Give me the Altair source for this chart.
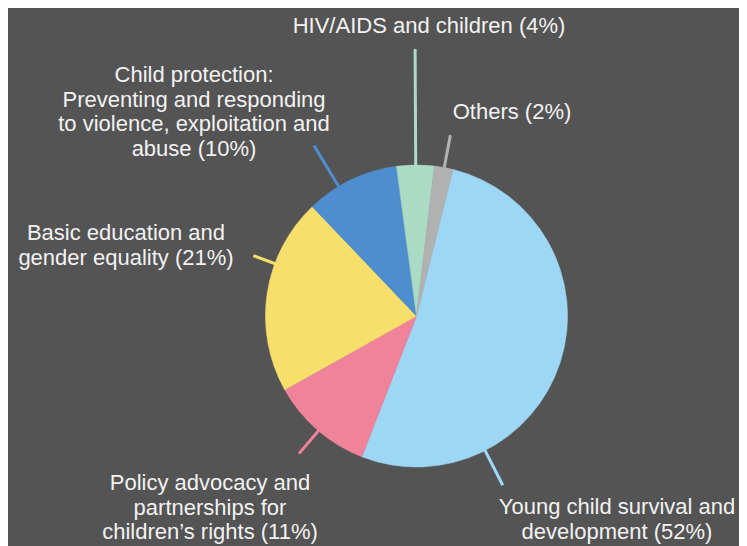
import altair as alt
import pandas as pd
import numpy as np

# ---- data -------------------------------------------------------------
categories = [
    "Young child survival and development",
    "Policy advocacy and partnerships for children’s rights",
    "Basic education and gender equality",
    "Child protection: Preventing and responding to violence, exploitation and abuse",
    "HIV/AIDS and children",
    "Others",
]
shares = [52, 11, 21, 10, 4, 2]
colors = ["#9dd7f5", "#ee8399", "#f7df6b", "#4e8ecf", "#a9dbc5", "#b1b1b1"]
label_text = [
    "Young child survival and\ndevelopment (52%)",
    "Policy advocacy and\npartnerships for\nchildren’s rights (11%)",
    "Basic education and\ngender equality (21%)",
    "Child protection:\nPreventing and responding\nto violence, exploitation and\nabuse (10%)",
    "HIV/AIDS and children (4%)",
    "Others (2%)",
]

# ---- annotation layout (view pixels) ---------------------------------
W, H = 731, 538
CX, CY, R = 408.5, 308, 151
START = float(np.deg2rad(14))
label_x = [609, 202, 118, 186, 421, 504]
label_y = [506, 482, 232, 74, 25, 111]
leader_angle = [153, 220.5, 290.3, 329, 359.7, 10.6]
leader_outer = [190, 181, 174, 199, 267, 184]

df = pd.DataFrame({
    "cat": categories,
    "share": shares,
    "idx": list(range(len(categories))),
    "label": label_text,
    "lx": label_x,
    "ly": label_y,
})
a = np.deg2rad(leader_angle)
df["x1"] = CX + (R - 4) * np.sin(a)
df["y1"] = CY - (R - 4) * np.cos(a)
df["x2"] = CX + np.array(leader_outer) * np.sin(a)
df["y2"] = CY - np.array(leader_outer) * np.cos(a)

xs = alt.Scale(domain=[0, W])
ys = alt.Scale(domain=[0, H], reverse=True)
cscale = alt.Scale(domain=categories, range=colors)
color = alt.Color("cat:N", scale=cscale, legend=None)

base = alt.Chart(df)

leaders = base.mark_rule(strokeWidth=3).encode(
    x=alt.X("x1:Q", scale=xs, axis=None),
    y=alt.Y("y1:Q", scale=ys, axis=None),
    x2="x2:Q",
    y2="y2:Q",
    color=color,
)

pie = base.mark_arc(outerRadius=R, x=CX, y=CY, strokeWidth=0.6).encode(
    theta=alt.Theta("share:Q", stack=True,
                    scale=alt.Scale(range=[START, START + 2 * float(np.pi)])),
    order=alt.Order("idx:Q"),
    color=color,
    stroke=alt.Stroke("cat:N", scale=cscale, legend=None),
)

labels = base.mark_text(
    font="Liberation Sans",
    fontSize=22,
    color="#f2f2f2",
    align="center",
    baseline="alphabetic",
    lineBreak="\n",
    lineHeight=24.5,
).encode(
    x=alt.X("lx:Q", scale=xs, axis=None),
    y=alt.Y("ly:Q", scale=ys, axis=None),
    text="label:N",
)

chart = alt.layer(leaders, pie, labels).properties(
    width=W,
    height=H,
    background="#545454",
    padding=0,
    autosize=alt.AutoSizeParams(type="none"),
).configure_view(stroke=None)

chart.save("out.html", embed_options={"renderer": "svg", "actions": False})
